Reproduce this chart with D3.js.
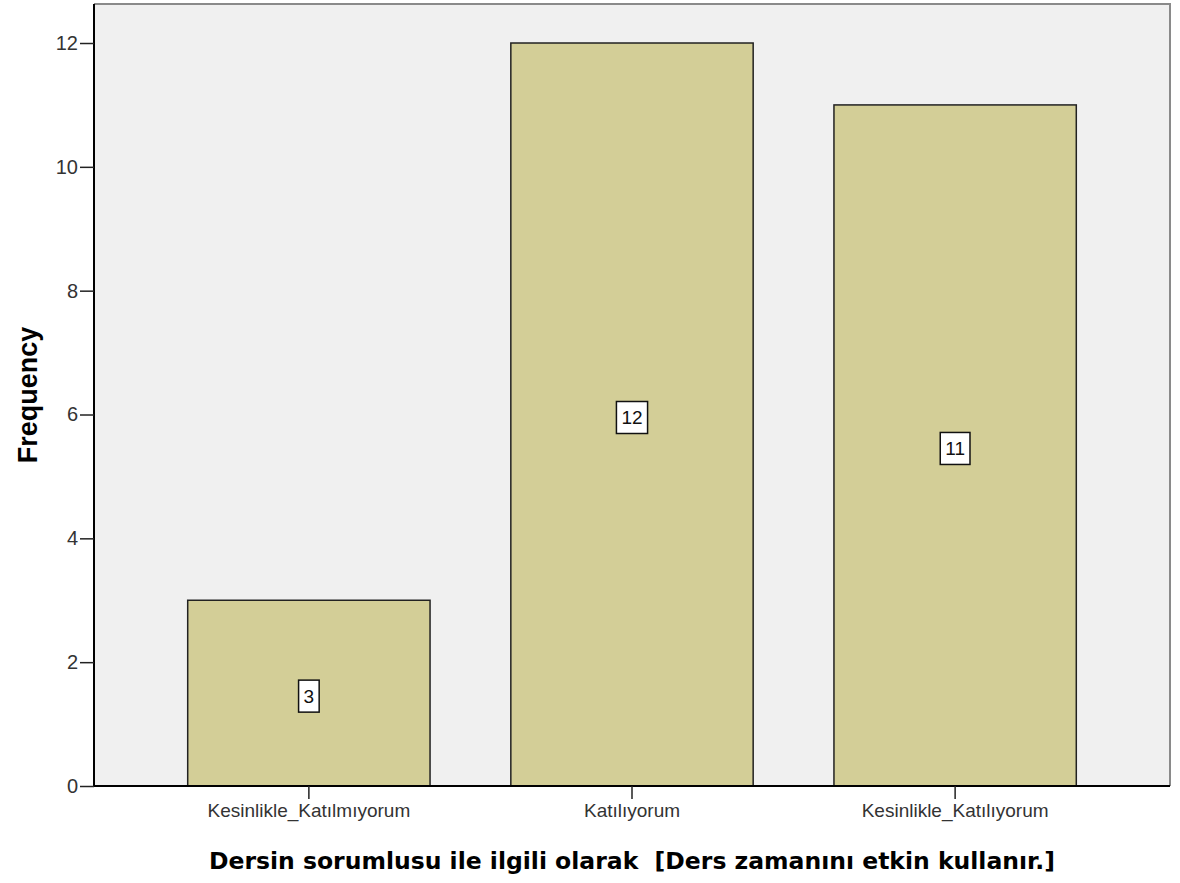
<!DOCTYPE html>
<html>
<head>
<meta charset="utf-8">
<script src="https://cdn.jsdelivr.net/npm/d3@7"></script>
<style>
  body { margin: 0; background: #fff; }
  svg { display: block; }
</style>
</head>
<body>
<svg id="chart" width="1180" height="883"></svg>
<script>
// values
const categories = ['Kesinlikle_Katılmıyorum', 'Katılıyorum', 'Kesinlikle_Katılıyorum']
const frequencies = [3, 12, 11]
const yTicks = [0, 2, 4, 6, 8, 10, 12]
const xTitle = 'Dersin sorumlusu ile ilgili olarak  [Ders zamanını etkin kullanır.]'
const yTitle = 'Frequency'

const svg = d3.select('#chart')
const plot = { left: 94, right: 1170, top: 4, bottom: 786 }

const x = d3.scaleBand()
  .domain(categories)
  .range([plot.left, plot.right])
  .paddingInner(0.25)
  .paddingOuter(0.29)

const y = d3.scaleLinear()
  .domain([0, 12.63])
  .range([plot.bottom, plot.top])

// plot background + frame (top/right grey like SPSS)
svg.append('rect')
  .attr('x', plot.left).attr('y', plot.top)
  .attr('width', plot.right - plot.left).attr('height', plot.bottom - plot.top)
  .attr('fill', '#f0f0f0')
svg.append('path')
  .attr('d', `M${plot.left},${plot.top}H${plot.right}V${plot.bottom}`)
  .attr('fill', 'none').attr('stroke', '#8a8a8a').attr('stroke-width', 2)

svg.append('g')
  .selectAll('rect')
  .data(frequencies)
  .join('rect')
  .attr('x', (d, i) => x(categories[i]))
  .attr('y', d => y(d))
  .attr('width', x.bandwidth())
  .attr('height', d => y(0) - y(d))
  .attr('fill', '#d3ce97')
  .attr('stroke', '#222')
  .attr('stroke-width', 1.5)

// value labels in white boxes
const labels = svg.append('g')
  .selectAll('g')
  .data(frequencies)
  .join('g')
  .attr('transform', (d, i) => `translate(${x(categories[i]) + x.bandwidth() / 2},${y(d / 2) + 3})`)

labels.append('text')
  .text(d => d)
  .attr('text-anchor', 'middle')
  .attr('dy', '0.36em')
  .attr('font-family', 'Liberation Sans, Arial, sans-serif')
  .attr('font-size', 19)
  .attr('fill', '#111')

labels.each(function () {
  const g = d3.select(this)
  const bb = g.select('text').node().getBBox()
  g.insert('rect', 'text')
    .attr('x', bb.x - 5)
    .attr('y', -16)
    .attr('width', bb.width + 10)
    .attr('height', 32)
    .attr('fill', '#fff')
    .attr('stroke', '#111')
    .attr('stroke-width', 1.5)
})

// axes
const yAxis = svg.append('g')
  .attr('transform', `translate(${plot.left},0)`)
  .call(d3.axisLeft(y).tickValues(yTicks).tickSize(14).tickPadding(2))
const xAxis = svg.append('g')
  .attr('transform', `translate(0,${plot.bottom})`)
  .call(d3.axisBottom(x).tickSize(13).tickPadding(5))

yAxis.select('.domain').attr('d', `M0,${plot.top}V${plot.bottom}`)
xAxis.select('.domain').attr('d', `M${plot.left},0H${plot.right}`)
for (const ax of [yAxis, xAxis]) {
  ax.select('.domain').attr('stroke', '#000').attr('stroke-width', 2)
  ax.selectAll('.tick line').attr('stroke', '#222').attr('stroke-width', 1.5)
  ax.selectAll('.tick text').attr('fill', '#333')
    .attr('font-family', 'Liberation Sans, Arial, sans-serif')
}
yAxis.selectAll('.tick text').attr('font-size', 20)
xAxis.selectAll('.tick text').attr('font-size', 19)

// axis titles
svg.append('text')
  .attr('x', (plot.left + plot.right) / 2)
  .attr('y', 869)
  .attr('text-anchor', 'middle')
  .attr('font-family', 'DejaVu Sans, Verdana, sans-serif')
  .attr('font-weight', 'bold')
  .attr('font-size', 23.5)
  .attr('fill', '#000')
  .style('white-space', 'pre')
  .text(xTitle)

svg.append('text')
  .attr('transform', `translate(37,395) rotate(-90)`)
  .attr('text-anchor', 'middle')
  .attr('font-family', 'Liberation Sans, Arial, sans-serif')
  .attr('font-weight', 'bold')
  .attr('font-size', 27)
  .attr('fill', '#000')
  .text(yTitle)
</script>
</body>
</html>
